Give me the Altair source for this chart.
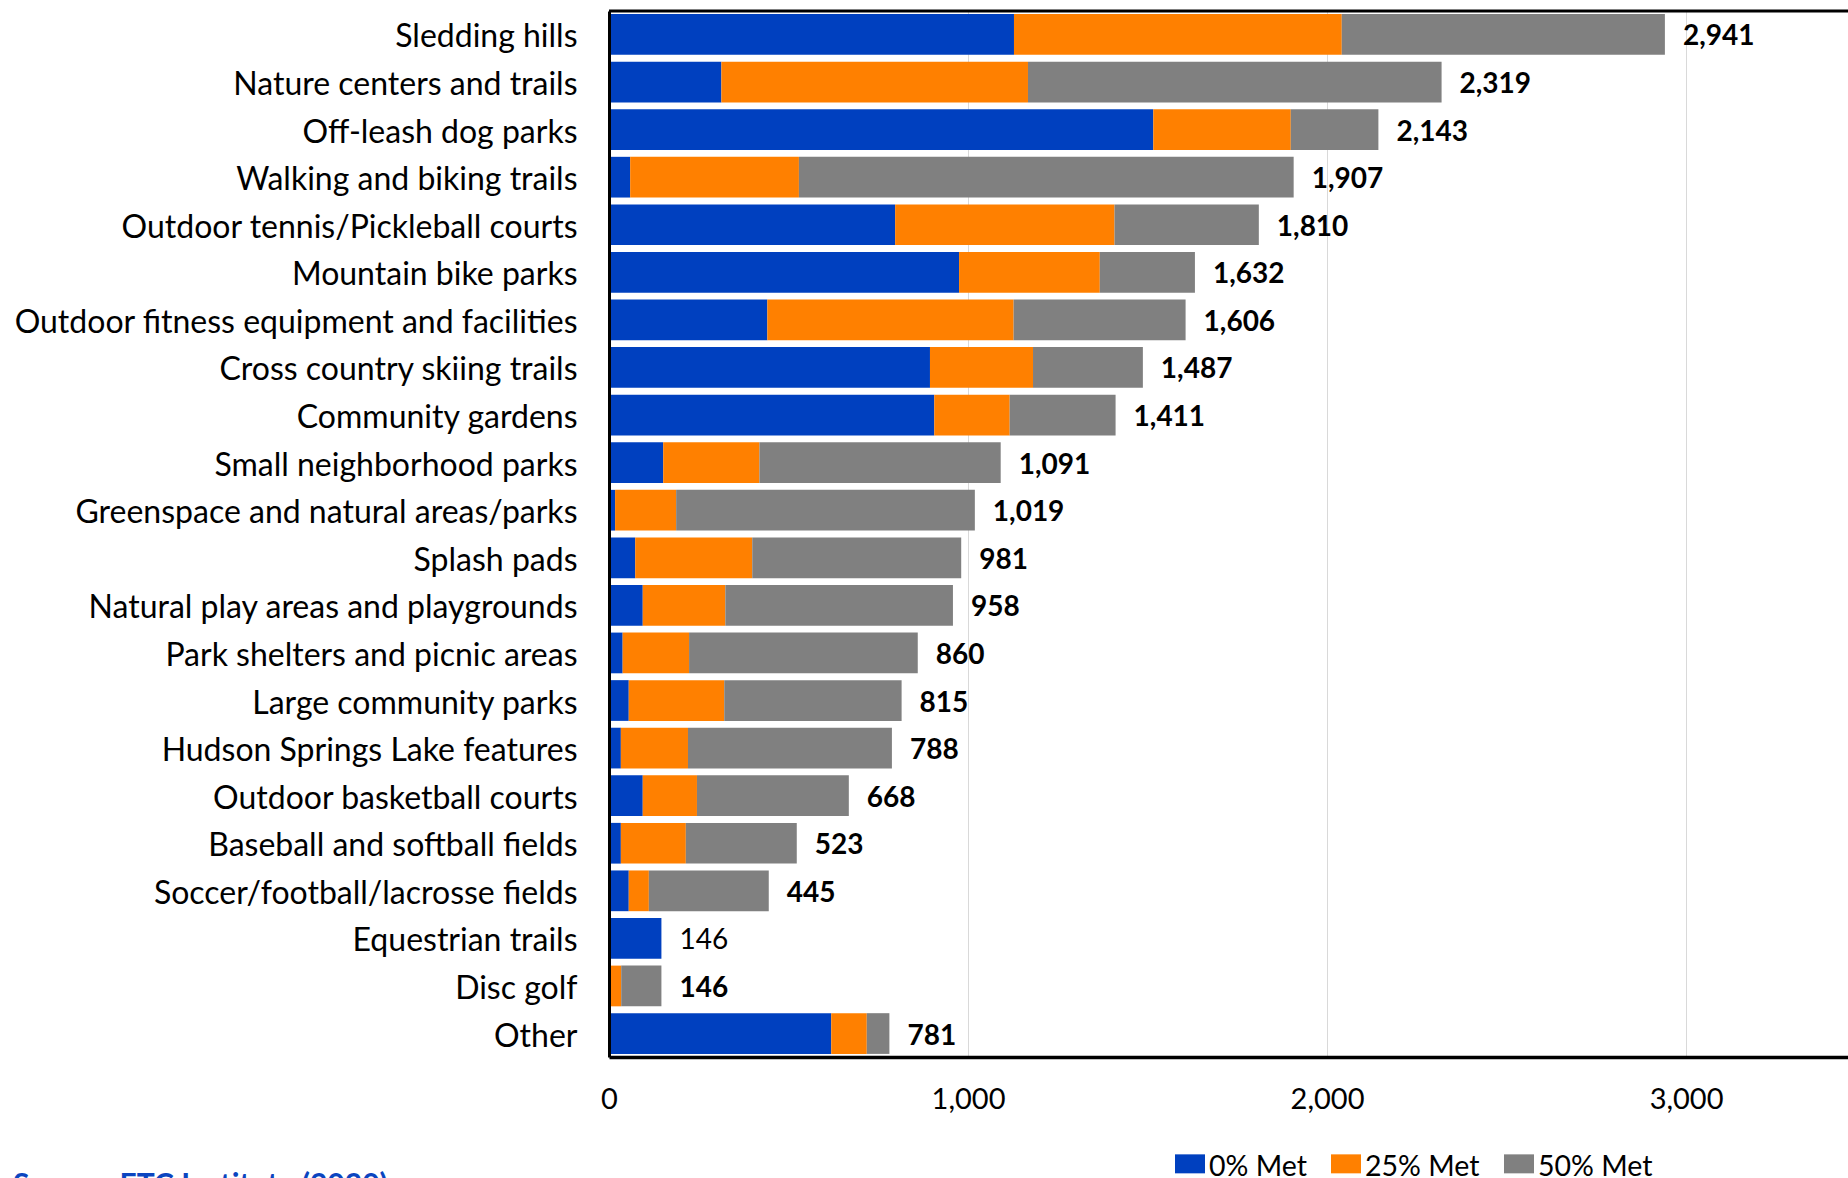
import altair as alt
import pandas as pd

# Amenities, top to bottom
categories = [
    "Sledding hills",
    "Nature centers and trails",
    "Off-leash dog parks",
    "Walking and biking trails",
    "Outdoor tennis/Pickleball courts",
    "Mountain bike parks",
    "Outdoor fitness equipment and facilities",
    "Cross country skiing trails",
    "Community gardens",
    "Small neighborhood parks",
    "Greenspace and natural areas/parks",
    "Splash pads",
    "Natural play areas and playgrounds",
    "Park shelters and picnic areas",
    "Large community parks",
    "Hudson Springs Lake features",
    "Outdoor basketball courts",
    "Baseball and softball fields",
    "Soccer/football/lacrosse fields",
    "Equestrian trails",
    "Disc golf",
    "Other",
]

# Households whose need is 0% / 25% / 50% met
met_0 = [1128, 313, 1516, 59, 797, 975, 441, 894, 906, 151, 17, 73, 94, 38, 55, 33, 94, 33, 55, 146, 0, 619]
met_25 = [913, 854, 383, 470, 611, 392, 686, 287, 210, 268, 170, 326, 230, 185, 266, 187, 151, 181, 56, 0, 34, 99]
met_50 = [900, 1152, 244, 1378, 402, 265, 479, 306, 295, 672, 832, 582, 634, 637, 494, 568, 423, 309, 334, 0, 112, 63]

series = ["0% Met", "25% Met", "50% Met"]
colors = ["#0040BF", "#FF8000", "#808080"]
x_ticks = [0, 1000, 2000, 3000]
regular_weight_rows = ["Equestrian trails"]
source_note = "Source: ETC Institute (2020)"

# long table for the stacked bars
rows = []
for i, cat in enumerate(categories):
    for j, (name, vals) in enumerate(zip(series, [met_0, met_25, met_50])):
        rows.append({"category": cat, "series": name, "order": j, "value": vals[i]})
bars_df = pd.DataFrame(rows)

# totals shown at the end of each bar
totals_df = pd.DataFrame({
    "category": categories,
    "total": [a + b + c for a, b, c in zip(met_0, met_25, met_50)],
    "bold": [c not in regular_weight_rows for c in categories],
})

W, H = 1239, 1046
X_MAX = 3451
FONT = "Lato"

x_scale = alt.Scale(domain=[0, X_MAX], nice=False, zero=True)
y_scale = alt.Scale(paddingInner=0.144, paddingOuter=0.065)

y_axis = alt.Axis(
    title=None, domainColor="black", domainWidth=3, ticks=False, tickSize=0,
    labelFont=FONT, labelFontSize=32, labelColor="black", labelPadding=32,
    labelLimit=800, labelOffset=3, grid=False, zindex=1,
)
x_axis = alt.Axis(
    title=None, values=x_ticks, labelExpr="format(datum.value, ',')",
    domainColor="black", domainWidth=3.5,
    ticks=False, tickSize=0, labelFont=FONT, labelFontSize=29, labelColor="black",
    labelPadding=28, labelFlush=False, grid=True, gridColor="#D9D9D9", gridWidth=1,
    zindex=0,
)

legend_shape = "M-1,-0.86L1,-0.86L1,0.406L-1,0.406Z"

bars = alt.Chart(bars_df).mark_bar().encode(
    y=alt.Y("category:N", sort=categories, scale=y_scale, axis=y_axis),
    x=alt.X("value:Q", stack="zero", scale=x_scale, axis=x_axis),
    color=alt.Color(
        "series:N",
        scale=alt.Scale(domain=series, range=colors),
        legend=alt.Legend(
            title=None, orient="none", legendX=566, legendY=1141,
            direction="horizontal", symbolType=legend_shape, symbolSize=900,
            symbolStrokeWidth=0, symbolOpacity=1, labelFont=FONT, labelFontSize=28.5,
            labelColor="black", labelOffset=4, columnPadding=24, padding=0,
            labelLimit=300,
        ),
    ),
    order=alt.Order("order:Q", sort="ascending"),
)


def total_labels(weight, test):
    return alt.Chart(totals_df).transform_filter(test).mark_text(
        align="left", baseline="middle", dx=18, dy=3, font=FONT, fontSize=28,
        fontWeight=weight, color="black",
    ).encode(
        y=alt.Y("category:N", sort=categories, scale=y_scale, axis=y_axis),
        x=alt.X("total:Q", scale=x_scale, axis=x_axis),
        text=alt.Text("total:Q", format=","),
    )


bold_labels = total_labels("bold", "datum.bold")
plain_labels = total_labels("normal", "!datum.bold")

# frame line along the top of the plot
top_line = alt.Chart(pd.DataFrame({"k": [0]})).mark_rule(
    color="black", strokeWidth=3
).encode(x=alt.value(0), x2=alt.value(W), y=alt.value(0))

source = alt.Chart(pd.DataFrame({"note": [source_note]})).mark_text(
    align="left", baseline="top", font=FONT, fontSize=30, fontWeight="bold",
    color="#0B45C0",
).encode(x=alt.value(-596), y=alt.value(1160), text="note:N")

chart = alt.layer(bars, bold_labels, plain_labels, top_line, source).properties(
    width=W,
    height=H,
    autosize=alt.AutoSizeParams(type="none"),
    padding={"left": 609, "top": 11, "right": 0, "bottom": 121},
    background="white",
).configure_view(stroke=None)

chart.save("out.html", embed_options={"renderer": "svg", "actions": False})
